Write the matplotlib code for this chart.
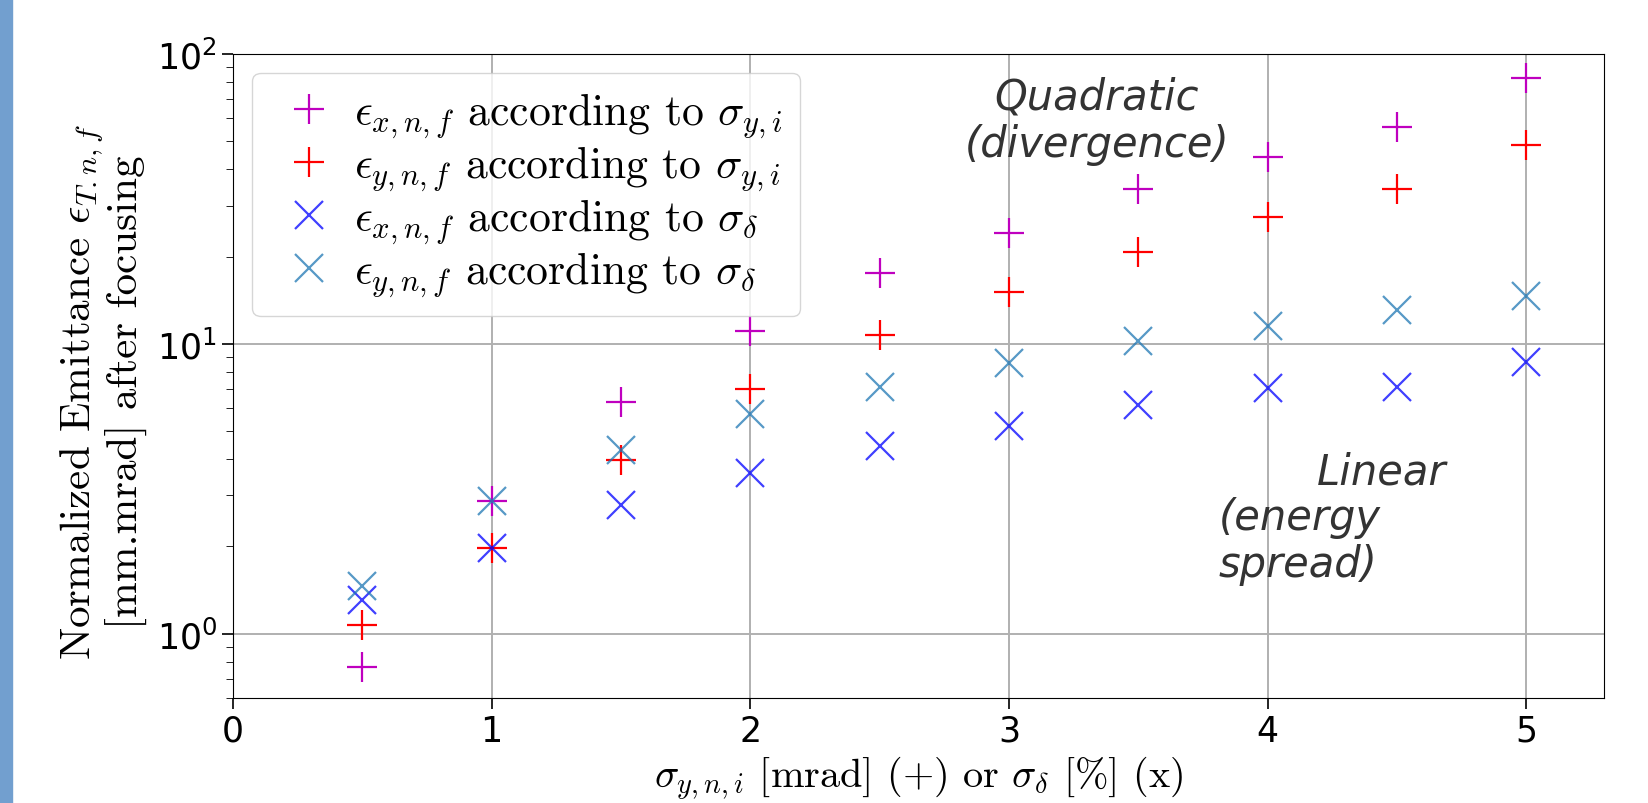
import numpy as np
import matplotlib
matplotlib.use('Agg')
import matplotlib.pyplot as plt
from matplotlib.font_manager import FontProperties
from matplotlib.patches import Rectangle

# values
x = [0.5, 1.0, 1.5, 2.0, 2.5, 3.0, 3.5, 4.0, 4.5, 5.0]
ex_div = [0.77, 2.88, 6.3, 11.1, 17.5, 24.2, 34.1, 44.2, 56.2, 82.5]
ey_div = [1.07, 1.98, 3.96, 6.98, 10.7, 15.1, 20.7, 27.4, 34.1, 48.4]
ex_spread = [1.31, 1.98, 2.79, 3.58, 4.45, 5.22, 6.17, 7.04, 7.10, 8.67]
ey_spread = [1.46, 2.88, 4.30, 5.72, 7.10, 8.61, 10.2, 11.5, 13.1, 14.6]

labels = [r'$\epsilon_{x,n,f}$ according to $\sigma_{y,i}$',
          r'$\epsilon_{y,n,f}$ according to $\sigma_{y,i}$',
          r'$\epsilon_{x,n,f}$ according to $\sigma_{\delta}$',
          r'$\epsilon_{y,n,f}$ according to $\sigma_{\delta}$']
xticks = [0, 1, 2, 3, 4, 5]

fig = plt.figure(figsize=(16.49, 8.04), dpi=100)
ax = fig.add_axes([0.1413, 0.1306, 0.8314, 0.801])

# blue strip on the left edge
fig.patches.append(Rectangle((0, 0), 0.0072, 1, transform=fig.transFigure,
                             color='#729fcf', zorder=-1))

ax.plot(x, ex_div, '+', color='m', ms=22, mew=1.6, label=labels[0])
ax.plot(x, ey_div, '+', color='r', ms=22, mew=1.6, label=labels[1])
ax.plot(x, ex_spread, 'x', color='b', ms=20, mew=1.6, alpha=0.75, label=labels[2])
ax.plot(x, ey_spread, 'x', color='#1f77b4', ms=20, mew=1.6, alpha=0.75, label=labels[3])

ax.set_yscale('log')
ax.set_xlim(0, 5.3)
ax.set_ylim(0.6, 100)
ax.set_xticks(xticks)
ax.set_xticklabels([str(t) for t in xticks])
ax.grid(True, which='major', color='#b0b0b0', lw=1.4)
ax.tick_params(axis='both', which='major', labelsize=25, length=8, width=1.2)
ax.tick_params(axis='y', which='minor', length=5)

cm_font = dict(family='cmr10', math_fontfamily='cm')
ax.set_xlabel(r'$\sigma_{y,n,i}$ [mrad] (+) or $\sigma_{\delta}$ [%] (x)',
              fontsize=29, **cm_font)
ax.xaxis.set_label_coords(0.5, -0.086)
ax.set_ylabel('Normalized Emittance $\\epsilon_{T.n,f}$\n[mm.mrad] after focusing',
              fontsize=31, linespacing=0.95, **cm_font)
ax.yaxis.set_label_coords(-0.063, 0.476)

leg = ax.legend(loc='upper left', prop=FontProperties(size=31.5, **cm_font),
                borderpad=0.4, handlelength=1.8, handletextpad=0.13,
                labelspacing=0.08, borderaxespad=0,
                bbox_to_anchor=(0.014, 0.971))

ax.text(3.34, 59, 'Quadratic\n(divergence)', fontsize=30, style='italic',
        color='#333333', ha='center', va='center', linespacing=1.15)
ax.text(4.19, 3.64, 'Linear', fontsize=30, style='italic',
        color='#333333', ha='left', va='center')
ax.text(3.81, 2.10, '(energy\nspread)', fontsize=30, style='italic',
        color='#333333', ha='left', va='center', linespacing=1.15)

fig.savefig('out.png', dpi=100)
